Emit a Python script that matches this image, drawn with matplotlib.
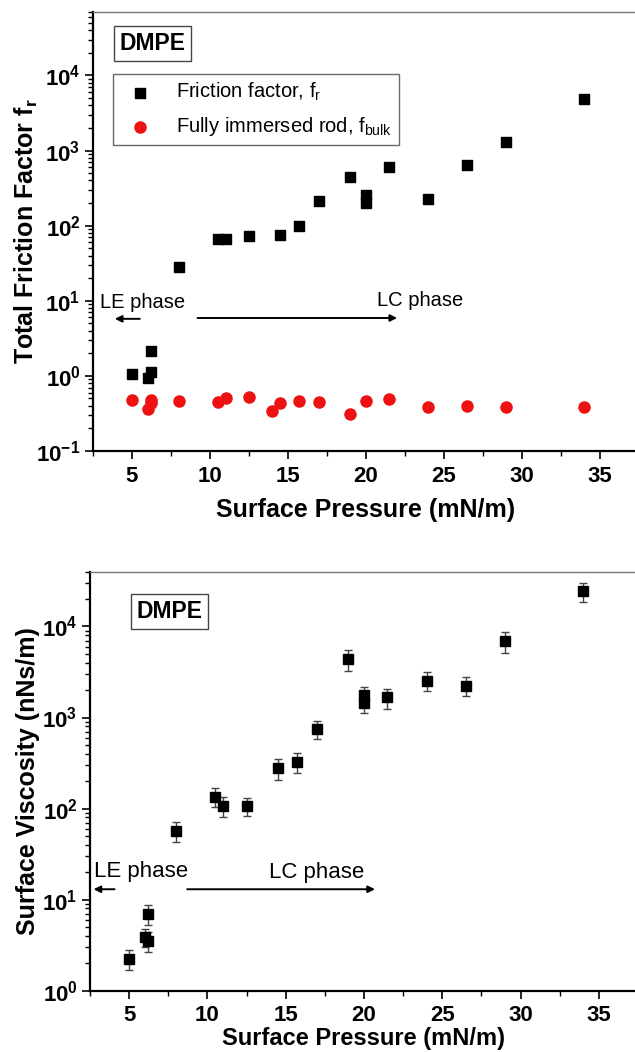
import math
import matplotlib
matplotlib.use("Agg")
from matplotlib import pyplot as plt
from matplotlib.ticker import MultipleLocator, LogLocator, FuncFormatter, NullFormatter

plt.rcParams['font.family'] = ['Liberation Sans', 'DejaVu Sans']
plt.rcParams['mathtext.fontset'] = 'custom'
plt.rcParams['mathtext.rm'] = 'Liberation Sans'
plt.rcParams['mathtext.it'] = 'Liberation Sans'
plt.rcParams['mathtext.bf'] = 'Liberation Sans:bold'

# top panel: friction factor vs surface pressure
p_fr = [5, 6, 6.2, 6.2, 8, 10.5, 11, 12.5, 14.5, 15.7, 17, 19, 20, 20, 21.5, 24, 26.5, 29, 34]
f_r = [1.05, 0.95, 1.14, 2.17, 28.6, 66, 66, 72, 74, 100, 213, 446, 258, 200, 600, 229, 650, 1320, 4920]

p_bulk = [5, 6, 6.2, 6.2, 8, 10.5, 11, 12.5, 14, 14.5, 15.7, 17, 19, 20, 21.5, 24, 26.5, 29, 34]
f_bulk = [0.48, 0.36, 0.48, 0.43, 0.47, 0.455, 0.50, 0.53, 0.345, 0.44, 0.47, 0.445, 0.31, 0.47, 0.49,
          0.39, 0.40, 0.38, 0.39]

# bottom panel: surface viscosity
p_visc = [5, 6, 6.2, 6.2, 8, 10.5, 11, 12.5, 14.5, 15.7, 17, 19, 20, 20, 21.5, 24, 26.5, 29, 34]
visc = [2.25, 3.9, 3.54, 6.96, 57, 135, 108, 107, 278, 324, 752, 4380, 1750, 1460, 1660, 2550, 2240, 6900, 24300]
visc_err = [0.56, 0.9, 0.85, 1.75, 14.5, 32, 27, 25, 71, 80, 172, 1125, 440, 340, 405, 610, 535, 1750, 5850]

fig = plt.figure(figsize=(6.35, 10.52), dpi=100)
ax1 = fig.add_axes([0.1465, 0.5713, 0.8595, 0.4173])
ax2 = fig.add_axes([0.1417, 0.0583, 0.863, 0.3983])

ax1.scatter(p_fr, f_r, marker='s', s=58, color='black', label='Friction factor, f$_\\mathregular{r}$', zorder=3)
ax1.scatter(p_bulk, f_bulk, marker='o', s=64, color='#ee1111', label='Fully immersed rod, f$_\\mathregular{bulk}$', zorder=3)

ax2.errorbar(p_visc, visc, yerr=visc_err, fmt='s', ms=7, color='black', ecolor='#444444',
             elinewidth=1, capsize=3, capthick=1, zorder=3)


def dec_fmt(v, pos):
    e = int(round(math.log10(v)))
    return r'$\mathbf{10^{%d}}$' % e


for ax in (ax1, ax2):
    ax.set_yscale('log')
    ax.set_xlim(2.5, 37.5)
    ax.xaxis.set_major_locator(MultipleLocator(5))
    ax.xaxis.set_minor_locator(MultipleLocator(2.5))
    ax.yaxis.set_major_locator(LogLocator(base=10, numticks=20))
    ax.yaxis.set_minor_locator(LogLocator(base=10, subs=range(2, 10), numticks=20))
    ax.yaxis.set_major_formatter(FuncFormatter(dec_fmt))
    ax.yaxis.set_minor_formatter(NullFormatter())
    ax.tick_params(which='major', direction='out', length=6, width=1.2, labelsize=16, pad=3)
    ax.tick_params(which='minor', direction='out', length=3.5, width=1.0)
    ax.tick_params(axis='x', which='major', pad=5)
    for lab in ax.get_xticklabels():
        lab.set_fontweight('bold')
    ax.spines['left'].set_linewidth(1.6)
    ax.spines['bottom'].set_linewidth(1.6)
    ax.spines['top'].set_linewidth(1.0)
    ax.spines['top'].set_color('#777777')
    ax.spines['right'].set_visible(False)

ax2.tick_params(axis='x', which='major', pad=4)

ax1.set_ylim(0.1, 7e4)
ax2.set_ylim(1, 4e4)

ax1.set_xlabel('Surface Pressure (mN/m)', fontsize=18, fontweight='bold')
ax2.set_xlabel('Surface Pressure (mN/m)', fontsize=17, fontweight='bold')
ax1.set_ylabel(r'Total Friction Factor $\mathbf{f_r}$', fontsize=18, fontweight='bold')
ax2.set_ylabel('Surface Viscosity (nNs/m)', fontsize=18, fontweight='bold')
ax1.yaxis.set_label_coords(-0.098, 0.5)
ax2.yaxis.set_label_coords(-0.092, 0.5)
ax1.xaxis.set_label_coords(0.5, -0.107)
ax2.xaxis.set_label_coords(0.5, -0.086)

box = dict(boxstyle='square,pad=0.25', facecolor='white', edgecolor='#444444', linewidth=1.0)
ax1.text(0.109, 0.928, 'DMPE', transform=ax1.transAxes, fontsize=16.5, fontweight='bold',
         ha='center', va='center', bbox=box)
ax2.text(0.1455, 0.905, 'DMPE', transform=ax2.transAxes, fontsize=16.5, fontweight='bold',
         ha='center', va='center', bbox=box)

leg = ax1.legend(loc='upper left', bbox_to_anchor=(0.036, 0.859), fontsize=14.5, frameon=True,
                 fancybox=False, edgecolor='#444444', handletextpad=0.8, labelspacing=0.6,
                 borderpad=0.35, handlelength=2.0, borderaxespad=0)
leg.get_frame().set_linewidth(1.0)

arrow = dict(arrowstyle='-|>', color='black', lw=1.4, mutation_scale=10, shrinkA=0, shrinkB=0)

# top panel phase marks
ax1.text(2.95, 9.4, 'LE phase', fontsize=14.5, ha='left', va='center')
ax1.annotate('', xy=(3.9, 5.75), xytext=(5.5, 5.75), arrowprops=arrow)
ax1.text(23.5, 10, 'LC phase', fontsize=14.5, ha='center', va='center')
ax1.annotate('', xy=(22.0, 5.9), xytext=(9.2, 5.9), arrowprops=arrow)

# bottom panel phase marks
ax2.text(2.77, 20.3, 'LE phase', fontsize=16, ha='left', va='center')
ax2.annotate('', xy=(2.73, 13), xytext=(4.07, 13), arrowprops=arrow)
ax2.text(16.97, 20, 'LC phase', fontsize=16, ha='center', va='center')
ax2.annotate('', xy=(20.7, 13), xytext=(8.71, 13), arrowprops=arrow)

fig.savefig('out.png', dpi=100)
